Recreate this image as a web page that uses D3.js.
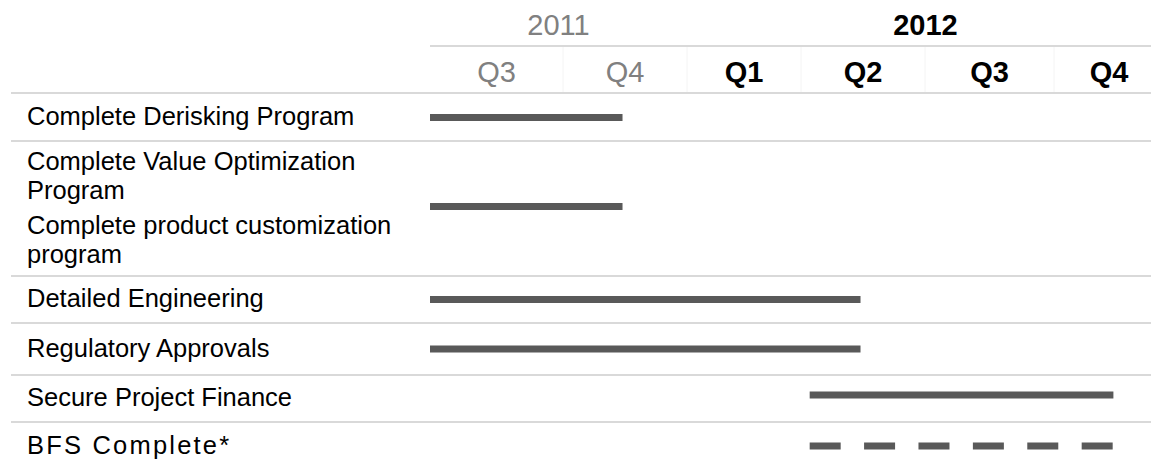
<!DOCTYPE html>
<html>
<head>
<meta charset="utf-8">
<script src="https://cdn.jsdelivr.net/npm/d3@7"></script>
<style>
  body { margin: 0; background: #fff; }
  text { font-family: "Liberation Sans", Arial, sans-serif; }
</style>
</head>
<body>
<div id="chart"></div>
<script>
// data
var years = ["2011", "2012"];
var yearFirstQ = [0, 2];
var yearLastQ = [2, 6];
var quarters = ["Q3", "Q4", "Q1", "Q2", "Q3", "Q4"];
var quarterYear = ["2011", "2011", "2012", "2012", "2012", "2012"];
var tasks = [
  ["Complete Derisking Program"],
  ["Complete Value Optimization Program", "Complete product customization program"],
  ["Detailed Engineering"],
  ["Regulatory Approvals"],
  ["Secure Project Finance"],
  ["BFS Complete*"]
];
// bar start / end in quarters from the start of 2011 Q3
var barStart = [0, 0, 0, 0, 3.07, 3.07];
var barEnd = [1.48, 1.48, 3.48, 3.48, 5.54, 5.54];
var barDashed = [false, false, false, false, false, true];

// layout
var width = 1151, height = 465;
var labelX = 27, lineX0 = 11;
var headerBottom = 93;
var rowHeights = [48, 135, 47, 52, 47, 48];
var barShift = [0.5, -2, 0, 0, -3.5, 0];
var labelSpacing = [0, 0, 0, 0, 0, 2.2];
var lineGap = 29, groupGap = 6;
var gridColor = "#d9d9d9", barColor = "#595959", greyText = "#808080";

var svg = d3.select("#chart")
  .append("svg")
    .attr("width", width)
    .attr("height", height);

// quarter scale: column edges of the table
var x = d3.scaleLinear()
  .domain(d3.range(7))
  .range([430, 563, 687, 801, 925, 1054, 1164]);

// row tops
var rowTop = [];
var acc = headerBottom;
rowHeights.forEach(function(h) { rowTop.push(acc); acc += h; });
var rowMid = function(i) { return rowTop[i] + rowHeights[i] / 2; };

// ---- header ----
svg.selectAll(".year")
  .data(years)
  .enter()
  .append("text")
    .attr("class", "year")
    .attr("x", function(d, i) { return (x(yearFirstQ[i]) + x(yearLastQ[i])) / 2; })
    .attr("y", 35)
    .attr("text-anchor", "middle")
    .style("font-size", "29px")
    .style("font-weight", function(d) { return d === "2012" ? "bold" : "normal"; })
    .style("fill", function(d) { return d === "2012" ? "#000" : greyText; })
    .text(function(d) { return d; });

svg.append("line")
  .attr("x1", x(0)).attr("x2", width)
  .attr("y1", 46).attr("y2", 46)
  .style("stroke", gridColor).style("stroke-width", 2);

// faint cell borders in quarter row
svg.selectAll(".qsep")
  .data(d3.range(1, 6))
  .enter()
  .append("line")
    .attr("x1", function(d) { return x(d); })
    .attr("x2", function(d) { return x(d); })
    .attr("y1", 47).attr("y2", 92)
    .style("stroke", "#f4f4f4").style("stroke-width", 1);

svg.selectAll(".quarter")
  .data(quarters)
  .enter()
  .append("text")
    .attr("class", "quarter")
    .attr("x", function(d, i) { return (x(i) + x(i + 1)) / 2; })
    .attr("y", 82)
    .attr("text-anchor", "middle")
    .style("font-size", "29px")
    .style("font-weight", function(d, i) { return quarterYear[i] === "2012" ? "bold" : "normal"; })
    .style("fill", function(d, i) { return quarterYear[i] === "2012" ? "#000" : greyText; })
    .text(function(d) { return d; });

// ---- row grid lines ----
var gridYs = [headerBottom].concat(rowTop.slice(1));
svg.selectAll(".grid")
  .data(gridYs)
  .enter()
  .append("line")
    .attr("x1", lineX0).attr("x2", width)
    .attr("y1", function(d) { return d; })
    .attr("y2", function(d) { return d; })
    .style("stroke", gridColor).style("stroke-width", 2);

// ---- labels (wrapped) ----
var maxLabelW = 390;
var measure = svg.append("text").style("font-size", "25.5px").style("visibility", "hidden");
function wrapLabel(str) {
  var words = str.split(" "), lines = [], cur = "";
  words.forEach(function(w) {
    var test = cur ? cur + " " + w : w;
    measure.text(test);
    if (cur && measure.node().getComputedTextLength() > maxLabelW) {
      lines.push(cur);
      cur = w;
    } else {
      cur = test;
    }
  });
  lines.push(cur);
  return lines;
}

tasks.forEach(function(labels, i) {
  var groups = labels.map(wrapLabel);
  var nLines = d3.sum(groups, function(g) { return g.length; });
  var blockH = (nLines - 1) * lineGap + (groups.length - 1) * groupGap;
  var yy = rowMid(i) + 7.5 - blockH / 2;
  groups.forEach(function(g, gi) {
    if (gi > 0) yy += groupGap;
    g.forEach(function(line) {
      svg.append("text")
        .attr("x", labelX)
        .attr("y", yy)
        .style("font-size", "25.5px")
        .style("letter-spacing", labelSpacing[i] + "px")
        .style("fill", "#000")
        .text(line);
      yy += lineGap;
    });
  });
});
measure.remove();

// ---- bars ----
svg.append("g")
  .selectAll("line")
  .data(tasks)
  .enter()
  .append("line")
    .attr("x1", function(d, i) { return x(barStart[i]); })
    .attr("x2", function(d, i) { return x(barEnd[i]); })
    .attr("y1", function(d, i) { return rowMid(i) + barShift[i]; })
    .attr("y2", function(d, i) { return rowMid(i) + barShift[i]; })
    .style("stroke", barColor)
    .style("stroke-width", 7)
    .style("stroke-dasharray", function(d, i) { return barDashed[i] ? "31,23.4" : null; });
</script>
</body>
</html>
